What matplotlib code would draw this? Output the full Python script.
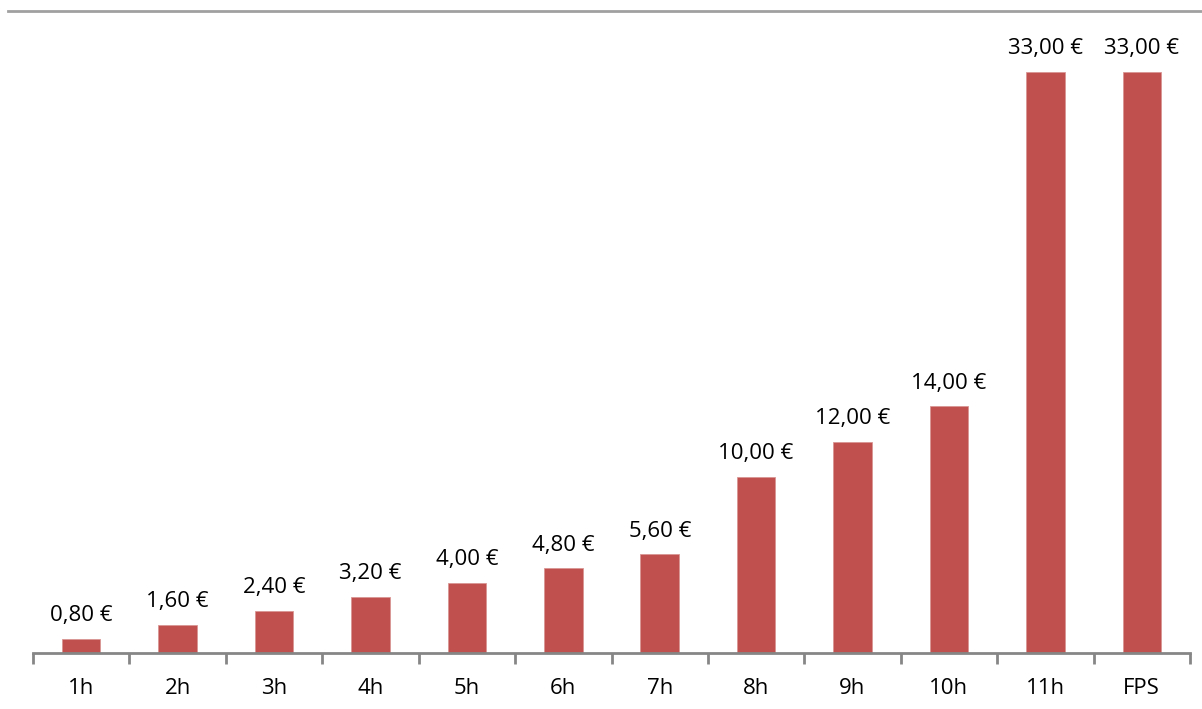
import matplotlib.pyplot as plt
from matplotlib.lines import Line2D

categories = ['1h', '2h', '3h', '4h', '5h', '6h', '7h', '8h', '9h', '10h', '11h', 'FPS']
prices = [0.80, 1.60, 2.40, 3.20, 4.00, 4.80, 5.60, 10.00, 12.00, 14.00, 33.00, 33.00]
labels = ['0,80 €', '1,60 €', '2,40 €', '3,20 €', '4,00 €', '4,80 €', '5,60 €',
          '10,00 €', '12,00 €', '14,00 €', '33,00 €', '33,00 €']

plt.rcParams['font.family'] = ['Open Sans', 'DejaVu Sans']

fig = plt.figure(figsize=(12.02, 7.09), dpi=100)
ax = fig.add_axes([33 / 1202, 56 / 709, (1190 - 33) / 1202, (653 - 10) / 709])

x = list(range(len(categories)))
ax.bar(x, prices, width=0.4, color='#c0504d', edgecolor='#d99694', linewidth=0.6)
for xi, v, lab in zip(x, prices, labels):
    ax.annotate(lab, (xi, v), xytext=(0, 9), textcoords='offset points',
                ha='center', va='bottom', fontsize=16, color='black')

ax.set_xlim(-0.5, len(categories) - 0.5)
ax.set_ylim(0, 36.5)
ax.set_yticks([])
ax.set_xticks(x)
ax.set_xticklabels(categories, fontsize=16)
ax.tick_params(axis='x', length=0, pad=18)
# ticks between categories
ax.set_xticks([i - 0.5 for i in range(len(categories) + 1)], minor=True)
ax.tick_params(axis='x', which='minor', length=8, width=2, color='#868686')
for s in ['top', 'right', 'left']:
    ax.spines[s].set_visible(False)
ax.spines['bottom'].set_color('#868686')
ax.spines['bottom'].set_linewidth(2)

# thin gray line across the top of the chart
fig.add_artist(Line2D([8 / 1202, 1.0], [1 - 10.5 / 709, 1 - 10.5 / 709],
                      color='#a0a0a0', linewidth=2))

plt.savefig('out.png', dpi=100)
